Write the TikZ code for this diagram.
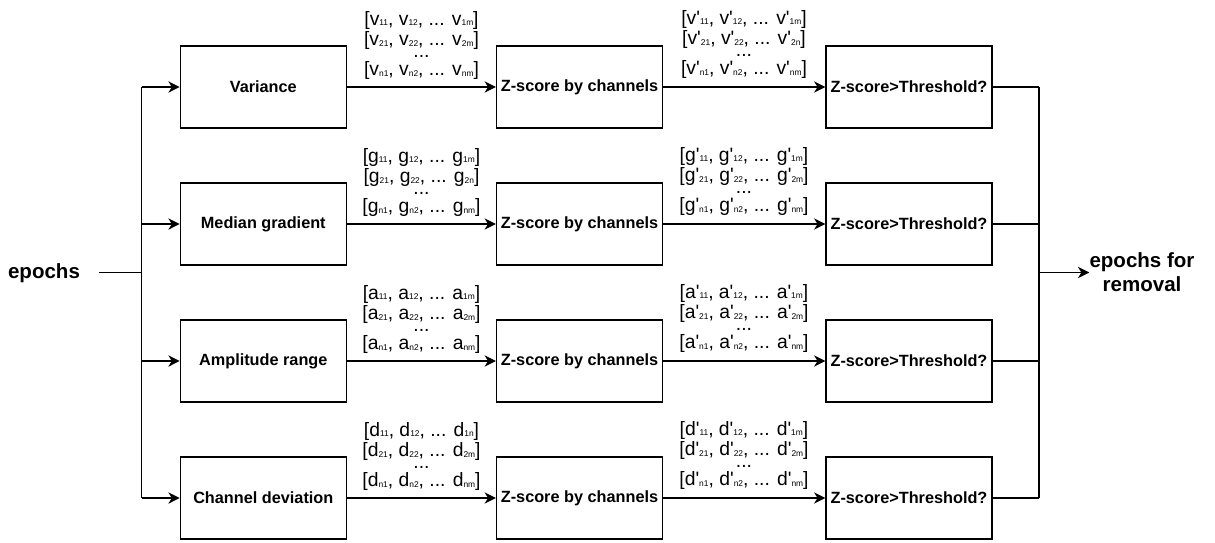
\documentclass[tikz,border=0pt]{standalone}
\usepackage{fontspec}
\setmainfont{Liberation Sans}
\usetikzlibrary{arrows.meta}
\newcommand\sbx[1]{\raisebox{-0.6pt}{\fontsize{6.3}{7}\selectfont #1}}
\newcommand\apos{\XeTeXglyph\XeTeXcharglyph"0027\relax}
\newcommand\tri[4]{[#1\sbx{#2}, #1\sbx{#3}, ... #1\sbx{#4}]}
\newcommand\fourlines[4]{#1\\[0pt]#2\\[-6.5pt]#3\\[-2pt]#4}
\begin{document}
\begin{tikzpicture}[x=0.75pt,y=-0.75pt,
  box/.style={draw,line width=0.9pt,minimum width=124.5pt,minimum height=61.5pt,inner sep=0pt,
    font=\bfseries\fontsize{12.2}{14}\selectfont},
  lab/.style={align=center,inner sep=0pt,anchor=south,font=\fontsize{14.5}{15.5}\selectfont},
  arr/.style={line width=0.9pt,-{Stealth[length=8.5pt,width=8.5pt,inset=2.6pt]}},
  ln/.style={line width=0.9pt},
  big/.style={font=\bfseries\fontsize{15.4}{18}\selectfont,inner sep=0pt,align=center}]
\useasboundingbox (0,0) rectangle (1215,543);
% boxes
\foreach \r/\y/\nm in {1/87/Variance,2/224/Median gradient,3/361/Amplitude range,4/498/Channel deviation}{
  \node[box] (a\r) at (263.3,\y) {\nm};
  \node[box] (b\r) at (579.5,\y) {Z-score by channels};
  \node[box] (c\r) at (909,\y) {Z-score>Threshold?};
  \draw[arr] (a\r) -- (b\r);
  \draw[arr] (b\r) -- (c\r);
}
% inputs / outputs
\node[big] (ep) at (44,272.7) {epochs};
\coordinate (jl) at (141.7,272.7);
\coordinate (jr) at (1039,272.5);
\node[big] (out) at (1142,272.5) {epochs for\\removal};
\draw[ln,shorten <=14pt] (ep.east) -- (jl);
\draw[ln] (jl |- a1.west) -- (jl |- a4.west);
\foreach \r in {1,...,4}{
  \draw[arr] (jl |- a\r.west) -- (a\r.west);
  \draw[ln] (c\r.east) -- (jr |- c\r.east);
}
\draw[ln] (jr |- c1.east) -- (jr |- c4.east);
\draw[arr] (jr) -- (out.west);
% labels col 1
\node[lab] (l1) at (421.5,80) {\fourlines{\tri{v}{11}{12}{1m}}{\tri{v}{21}{22}{2m}}{...}{\tri{v}{n1}{n2}{nm}}};
\node[lab] (l2) at (421.5,217) {\fourlines{\tri{g}{11}{12}{1m}}{\tri{g}{21}{22}{2n}}{...}{\tri{g}{n1}{n2}{nm}}};
\node[lab] (l3) at (421.5,354) {\fourlines{\tri{a}{11}{12}{1m}}{\tri{a}{21}{22}{2m}}{...}{\tri{a}{n1}{n2}{nm}}};
\node[lab] (l4) at (421.5,491) {\fourlines{\tri{d}{11}{12}{1n}}{\tri{d}{21}{22}{2m}}{...}{\tri{d}{n1}{n2}{nm}}};
% labels col 2
\node[lab] (m1) at (744,79) {\fourlines{\tri{v\apos}{11}{12}{1m}}{\tri{v\apos}{21}{22}{2n}}{...}{\tri{v\apos}{n1}{n2}{nm}}};
\node[lab] (m2) at (744,216) {\fourlines{\tri{g\apos}{11}{12}{1m}}{\tri{g\apos}{21}{22}{2m}}{...}{\tri{g\apos}{n1}{n2}{nm}}};
\node[lab] (m3) at (744,353) {\fourlines{\tri{a\apos}{11}{12}{1m}}{\tri{a\apos}{21}{22}{2m}}{...}{\tri{a\apos}{n1}{n2}{nm}}};
\node[lab] (m4) at (744,490) {\fourlines{\tri{d\apos}{11}{12}{1m}}{\tri{d\apos}{21}{22}{2m}}{...}{\tri{d\apos}{n1}{n2}{nm}}};
\end{tikzpicture}
\end{document}
